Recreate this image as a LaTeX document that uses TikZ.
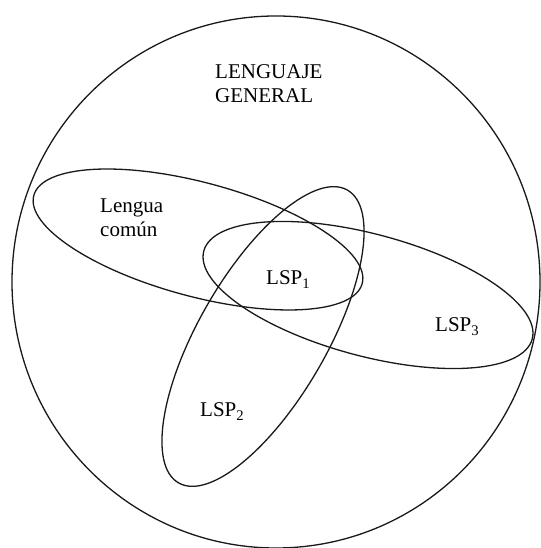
\documentclass[tikz,border=0pt]{standalone}
\usepackage{fontspec}
\setmainfont{Liberation Serif}
\begin{document}
\begin{tikzpicture}[x=1pt,y=1pt,
  curve/.style={draw=black!90, line width=1.3pt},
  lbl/.style={anchor=base west, inner sep=0pt, font=\fontsize{21}{24}\selectfont}]
\useasboundingbox (0,0) rectangle (540,548);
% outer circle
\draw[curve] (276,266) ellipse [x radius=264, y radius=266];
% ellipses
\draw[curve, rotate around={-15:(198,308.5)}] (198,308.5) ellipse [x radius=170, y radius=57];
\draw[curve, rotate around={-15:(368,253)}] (368,253) ellipse [x radius=170, y radius=61];
\draw[curve, rotate around={60:(263,211.5)}] (263,211.5) ellipse [x radius=169, y radius=64];
% labels
\node[lbl] (lg1) at (215,469) {LENGUAJE};
\node[lbl] (lg2) at (215,445) {GENERAL};
\node[lbl] (lc1) at (100,335) {Lengua};
\node[lbl] (lc2) at (100,311) {común};
\node[lbl] (l1) at (266,263) {LSP\textsubscript{1}};
\node[lbl] (l3) at (435,216) {LSP\textsubscript{3}};
\node[lbl] (l2) at (200,131) {LSP\textsubscript{2}};
\end{tikzpicture}
\end{document}
